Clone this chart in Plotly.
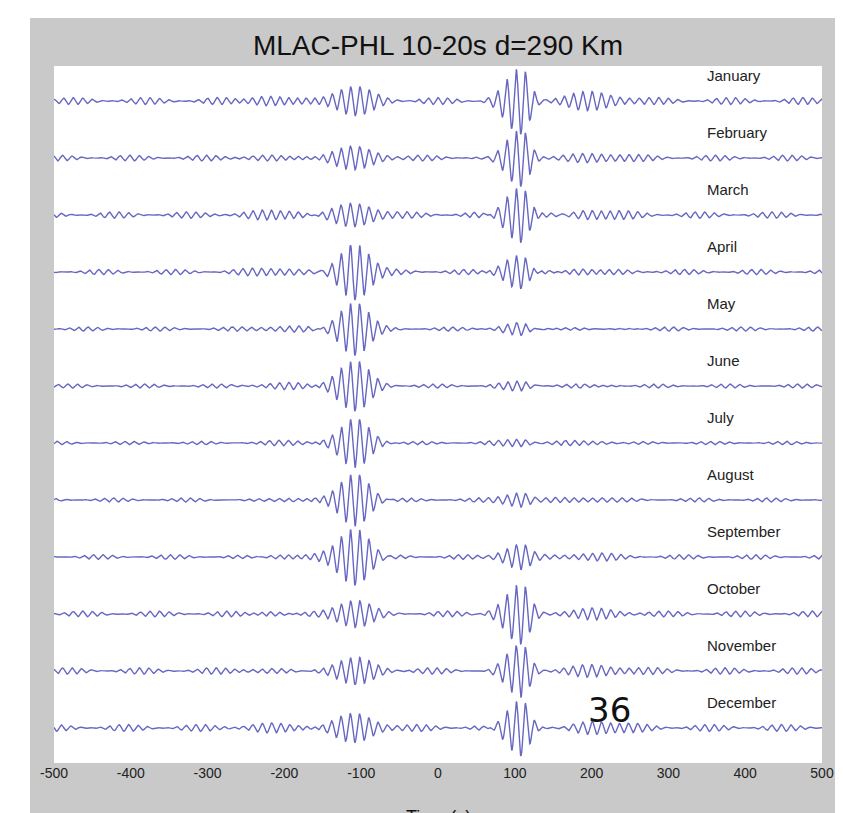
import numpy as np
import plotly.graph_objects as go

# ---------------- data ----------------
MONTHS = ["January", "February", "March", "April", "May", "June",
          "July", "August", "September", "October", "November", "December"]
# peak amplitude of the acausal (negative lag) surface-wave packet, in trace-spacing units
NEG_AMP = [0.22, 0.16, 0.18, 0.49, 0.47, 0.47, 0.46, 0.47, 0.50, 0.22, 0.19, 0.21]
# width (s) of the acausal packet
NEG_WIDTH = [28, 28, 26, 20, 20, 21, 20, 20, 21, 24, 26, 26]
# peak amplitude of the causal (positive lag) packet
POS_AMP = [0.55, 0.50, 0.49, 0.32, 0.14, 0.09, 0.06, 0.12, 0.20, 0.50, 0.47, 0.50]
# precursor wave train near -200 s
PRE_AMP = [0.12, 0.06, 0.07, 0.05, 0.03, 0.03, 0.03, 0.03, 0.04, 0.05, 0.05, 0.06]
# coda after the causal packet near +190 s
CODA_AMP = [0.12, 0.07, 0.08, 0.06, 0.04, 0.03, 0.03, 0.03, 0.04, 0.06, 0.09, 0.12]
# level of the background wiggles
BG_AMP = [0.06, 0.05, 0.055, 0.045, 0.035, 0.035, 0.03, 0.035, 0.04, 0.05, 0.055, 0.06]

PACKET_LAG = 108.0      # s  (290 km / ~2.7 km/s)
PERIOD = 12.0           # s  (10-20 s band)
X_TICKS = [-500, -400, -300, -200, -100, 0, 100, 200, 300, 400, 500]

t = np.arange(-500, 500.01, 0.5)


def packet(amp, center, s_left, s_right):
    s = np.where(t < center, s_left, s_right)
    env = np.exp(-0.5 * ((t - center) / s) ** 2)
    return amp * env * (-np.cos(2 * np.pi * (t - center) / PERIOD))


fig = go.Figure()
LINE = "#6767c2"
for i, m in enumerate(MONTHS):
    w = (packet(NEG_AMP[i], -PACKET_LAG, NEG_WIDTH[i], NEG_WIDTH[i] * 0.9)
         + packet(POS_AMP[i], PACKET_LAG, 20, 11)
         + packet(PRE_AMP[i], -200, 35, 30)
         + packet(CODA_AMP[i], 195, 30, 35))
    bg = BG_AMP[i] * (0.55 + 0.45 * np.cos(2 * np.pi * t / 95 + 1.3 * i)) \
        * np.cos(2 * np.pi * t / 12.5 + 0.7 * i)
    y = (i + 1) - (w + bg)
    fig.add_trace(go.Scatter(x=t, y=y, mode="lines",
                             line=dict(color=LINE, width=1.4),
                             hoverinfo="skip", showlegend=False))

annotations = []
for i, m in enumerate(MONTHS):
    annotations.append(dict(x=347, y=(i + 1) - 0.45, xref="x", yref="y", text=m,
                            showarrow=False, xanchor="left", yanchor="middle",
                            font=dict(family="Liberation Sans, Arial", size=15, color="#222")))

# axis title, mostly cut off by the page edge (as in the reference)
annotations.append(dict(x=0.5, y=-(797 - 755) / 697, xref="paper", yref="paper", text="Time (s)",
                        showarrow=False, xanchor="center", yanchor="top",
                        font=dict(family="Liberation Sans, Arial", size=18, color="#111")))
# slide number overlay
annotations.append(dict(x=(601 - 46) / 768, y=(755 - 702) / 697, xref="paper", yref="paper",
                        text="36", showarrow=False, xanchor="center", yanchor="middle",
                        font=dict(family="DejaVu Sans", size=34, color="#111")))

PW, PH = 768, 697
shapes = [
    # white page margins around the grey figure window
    dict(type="rect", xref="paper", yref="paper", x0=-46 / PW, x1=-24 / PW,
         y0=-58 / PH, y1=755 / PH, fillcolor="white", line_width=0, layer="above"),
    dict(type="rect", xref="paper", yref="paper", x0=789 / PW, x1=797 / PW,
         y0=-58 / PH, y1=755 / PH, fillcolor="white", line_width=0, layer="above"),
    dict(type="rect", xref="paper", yref="paper", x0=-46 / PW, x1=797 / PW,
         y0=(755 - 10) / PH, y1=755 / PH, fillcolor="white", line_width=0, layer="above"),
]

fig.update_layout(
    width=843, height=813,
    margin=dict(l=46, r=29, t=58, b=58),
    paper_bgcolor="#c9c9c9",
    plot_bgcolor="white",
    title=dict(text="MLAC-PHL 10-20s d=290 Km", x=0.5, xref="paper",
               y=1 - 37 / 813, yref="container", xanchor="center", yanchor="middle",
               font=dict(family="Liberation Sans, Arial", size=28, color="#111")),
    xaxis=dict(range=[-500, 500], tickvals=X_TICKS, ticktext=[str(v) for v in X_TICKS],
               showgrid=False, zeroline=False, showline=False, ticks="",
               tickfont=dict(family="Liberation Sans Narrow, Liberation Sans, Arial",
                             size=14, color="#222")),
    yaxis=dict(range=[12.615, 0.385], showgrid=False, zeroline=False,
               showticklabels=False, ticks="", showline=False),
    annotations=annotations,
    shapes=shapes,
)

fig.write_html("out.html")
